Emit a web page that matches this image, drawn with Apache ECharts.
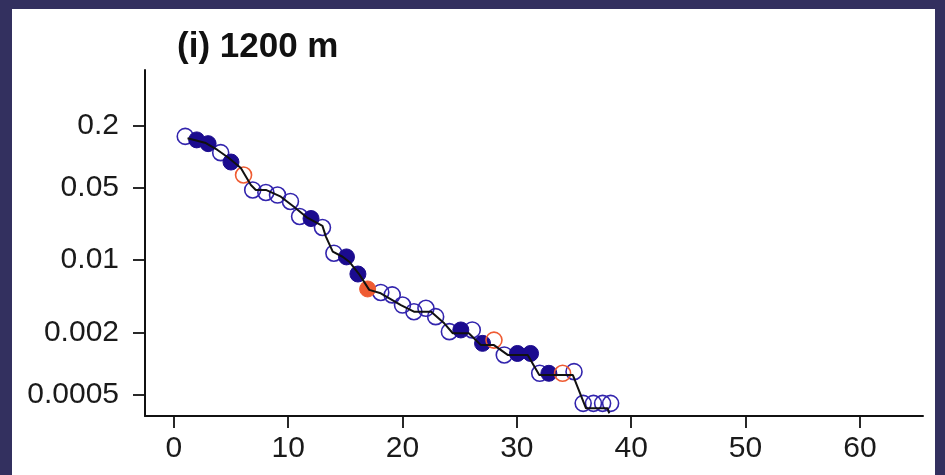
<!DOCTYPE html>
<html>
<head>
<meta charset="utf-8">
<script src="https://cdn.jsdelivr.net/npm/echarts@6/dist/echarts.min.js"></script>
<style>
  html, body { margin: 0; padding: 0; background: #33305f; width: 945px; height: 475px; overflow: hidden; }
  #chart { position: absolute; left: 12px; top: 9px; width: 923px; height: 466px; background: #ffffff; }
</style>
</head>
<body>
<div id="chart"></div>
<script>
// ---- data ----
const titleText = '(i) 1200 m';
const xTicks = [0, 10, 20, 30, 40, 50, 60];
const yTicks = [0.2, 0.05, 0.01, 0.002, 0.0005];

const openBlueX = [1.0, 4.1, 6.9, 8.05, 9.07, 10.2, 11.0, 13.0, 14.0, 18.1, 19.1, 20.0, 21.0, 22.05, 22.9, 24.1, 26.1, 28.9, 32.0, 35.0, 35.8, 36.7, 37.5, 38.2];
const openBlueY = [0.1564, 0.1089, 0.0475, 0.0449, 0.0424, 0.0368, 0.0263, 0.0206, 0.01163, 0.00486, 0.00460, 0.00367, 0.003165, 0.003414, 0.002835, 0.00203, 0.002109, 0.00121, 0.000804, 0.000834, 0.000412, 0.000412, 0.000412, 0.000412];

const filledBlueX = [2.0, 3.0, 5.0, 12.0, 15.1, 16.1, 25.1, 27.0, 30.05, 31.2, 32.8];
const filledBlueY = [0.1447, 0.1331, 0.0884, 0.02516, 0.01071, 0.00732, 0.002109, 0.001565, 0.00125, 0.00125, 0.000804];

const openOrangeX = [6.1, 28.0, 34.0];
const openOrangeY = [0.0663, 0.001683, 0.000804];

const filledOrangeX = [16.95];
const filledOrangeY = [0.00525];

const lineX = [1.2, 2.8, 3.82, 4.81, 5.86, 6.74, 7.17, 8.05, 9.36, 10.5, 11.7, 13.0, 13.3, 13.9, 14.76, 15.34, 16.2, 17.09, 18.1, 19.86, 21.0, 22.5, 23.65, 24.4, 25.8, 26.86, 28.0, 29.2, 30.95, 31.96, 34.9, 36.05, 37.94, 38.08];
const lineY = [0.1499, 0.1349, 0.1156, 0.0967, 0.0774, 0.0531, 0.0475, 0.0475, 0.0409, 0.03268, 0.02546, 0.02135, 0.01683, 0.01203, 0.01075, 0.00963, 0.00732, 0.00514, 0.00477, 0.00367, 0.003165, 0.003165, 0.002446, 0.001961, 0.001961, 0.001506, 0.001506, 0.00121, 0.00121, 0.000774, 0.000774, 0.000369, 0.000369, 0.00033];

// ---- build ----
function zip(xs, ys) { return xs.map((x, i) => [x, ys[i]]); }

const FONT = 'Liberation Sans, Arial, Helvetica, sans-serif';
const BLUE = '#3224ad';
const NAVY = '#1b0b8f';
const ORANGE = '#ef5b32';

const chart = echarts.init(document.getElementById('chart'), null, { renderer: 'canvas' });
chart.setOption({
  animation: false,
  backgroundColor: '#ffffff',
  title: {
    text: titleText,
    left: 160,
    top: 16,
    textStyle: { fontFamily: FONT, fontSize: 35, fontWeight: 'bold', color: '#111111' }
  },
  grid: { left: 133, right: 12, top: 61, bottom: 59, containLabel: false },
  xAxis: {
    type: 'value',
    min: -2.52,
    max: 65.52,
    axisLine: { show: true, onZero: false, lineStyle: { color: '#111111', width: 2 } },
    axisTick: { show: true, length: 12, lineStyle: { color: '#111111', width: 1.8 }, customValues: xTicks },
    axisLabel: { margin: 18, fontFamily: FONT, fontSize: 30, color: '#1a1a1a', customValues: xTicks },
    splitLine: { show: false }
  },
  yAxis: {
    type: 'log',
    min: 0.000311,
    max: 0.685,
    axisLine: { show: true, onZero: false, lineStyle: { color: '#111111', width: 2 } },
    axisTick: { show: true, length: 12, lineStyle: { color: '#111111', width: 1.8 }, customValues: yTicks },
    axisLabel: { margin: 26, fontFamily: FONT, fontSize: 30, color: '#1a1a1a', customValues: yTicks,
      formatter: v => String(Number(v.toPrecision(6))) },
    splitLine: { show: false }
  },
  series: [
    { type: 'scatter', data: zip(openBlueX, openBlueY), symbol: 'circle', symbolSize: 16, z: 2,
      itemStyle: { opacity: 1, color: 'rgba(0,0,0,0)', borderColor: BLUE, borderWidth: 1.6 } },
    { type: 'scatter', data: zip(filledBlueX, filledBlueY), symbol: 'circle', symbolSize: 16, z: 2,
      itemStyle: { opacity: 1, color: NAVY, borderColor: NAVY, borderWidth: 1 } },
    { type: 'scatter', data: zip(openOrangeX, openOrangeY), symbol: 'circle', symbolSize: 16, z: 2,
      itemStyle: { opacity: 1, color: 'rgba(0,0,0,0)', borderColor: ORANGE, borderWidth: 1.6 } },
    { type: 'scatter', data: zip(filledOrangeX, filledOrangeY), symbol: 'circle', symbolSize: 16, z: 2,
      itemStyle: { opacity: 1, color: ORANGE, borderColor: ORANGE, borderWidth: 1 } },
    { type: 'line', data: zip(lineX, lineY), showSymbol: false, symbol: 'none', z: 3,
      lineStyle: { color: '#111111', width: 2 } }
  ]
});
</script>
</body>
</html>
